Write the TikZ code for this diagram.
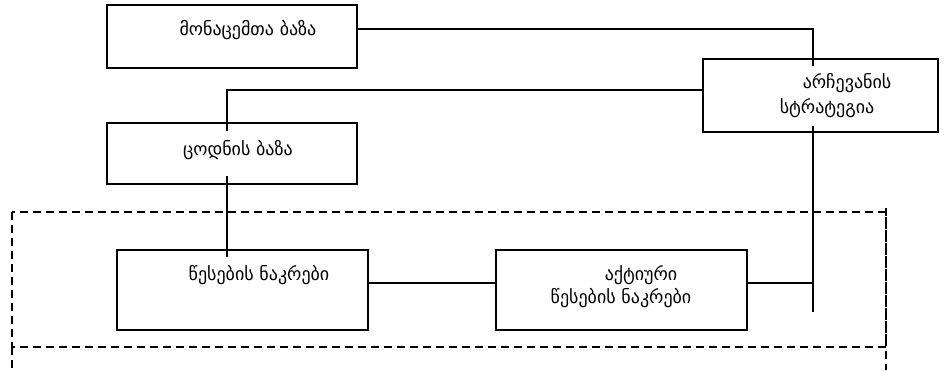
\documentclass[tikz,border=0pt]{standalone}
\usepackage{fontspec}
\newfontfamily\geofont[Script=Georgian]{DejaVu Sans}
\usepackage{tikz}
\usetikzlibrary{positioning}
\tikzset{
  x=1pt, y=-1pt,
  every node/.style={font=\geofont\fontsize{18}{21}\selectfont},
  block/.style={draw, line width=1.6pt, rectangle, inner sep=0pt},
  label text/.style={inner sep=0pt},
  link/.style={line width=1.6pt},
  group/.style={line width=1.6pt, dash pattern=on 8pt off 5pt},
}
\begin{document}
\begin{tikzpicture}
        \useasboundingbox (0,0) rectangle (948,370);

        % frame of the rule part
        \draw[group] (12,212) rectangle (886,347);
        \draw[group] (12,347) -- (12,370);
        \draw[group] (886,208) -- (886,370);

        % blocks
        \node[block, minimum width=250, minimum height=63] (db) at (232,36.5) {};
        \node[block, minimum width=235, minimum height=73] (strat) at (820.5,95.5) {};
        \node[block, minimum width=250, minimum height=61] (kb) at (232,153.5) {};
        \node[block, minimum width=251, minimum height=80] (rules) at (242.5,290) {};
        \node[block, minimum width=251, minimum height=80] (active) at (621.5,290) {};

        % connections
        \draw[link] ([yshift=7.5pt]db.east) -| ([xshift=-7.5pt,yshift=-8pt]strat.north);
        \draw[link] ([yshift=5.5pt]strat.west) -| ([xshift=-5pt,yshift=-9pt]kb.north);
        \draw[link] ([xshift=-5pt,yshift=9pt]kb.south) -- ([xshift=-15.5pt,yshift=-8pt]rules.north);
        \draw[link] ([yshift=7pt]rules.east) -- ([yshift=7pt]active.west);
        \coordinate (tail) at (813,312);
        \draw[link] ([xshift=-7.5pt,yshift=7pt]strat.south) -- (tail);
        \draw[link] ([yshift=7pt]active.east) -- ([yshift=7pt]active.east -| tail);

        % texts
        \node[label text] (dbtext) at (248,30) {მონაცემთა ბაზა};
        \node[label text] (strattexta) at (847,83) {არჩევანის};
        \node[label text] (strattextb) at (827,108) {სტრატეგია};
        \node[label text] (kbtext) at (238,150) {ცოდნის ბაზა};
        \node[label text] (rulestext) at (259,275) {წესების ნაკრები};
        \node[label text] (activetexta) at (641,275) {აქტიური};
        \node[label text] (activetextb) at (621,298) {წესების ნაკრები};

\end{tikzpicture}
\end{document}
